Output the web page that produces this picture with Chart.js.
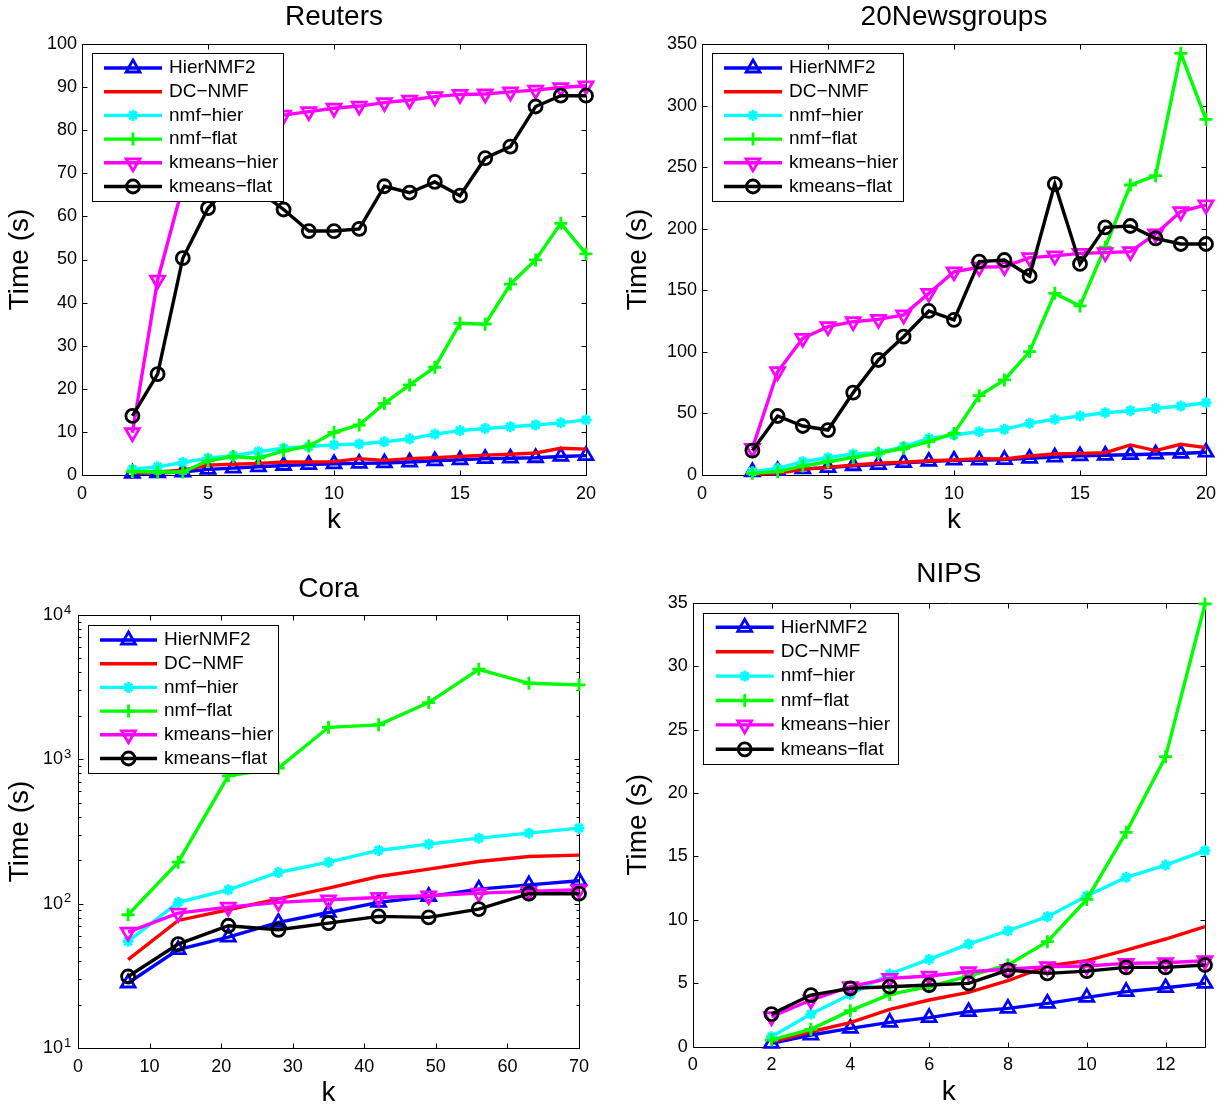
<!DOCTYPE html>
<html>
<head>
<meta charset="utf-8">
<script src="https://cdn.jsdelivr.net/npm/chart.js@4.4.1/dist/chart.umd.min.js"></script>
<style>
html, body { margin: 0; padding: 0; background: #ffffff; }
body { width: 1225px; height: 1110px; position: relative; overflow: hidden; }
canvas { position: absolute; }
</style>
</head>
<body>
<canvas id="reuters" width="612" height="555" style="left:0px;top:0px"></canvas>
<canvas id="news" width="613" height="555" style="left:612px;top:0px"></canvas>
<canvas id="cora" width="612" height="555" style="left:0px;top:555px"></canvas>
<canvas id="nips" width="613" height="555" style="left:612px;top:555px"></canvas>
<script>
// ---------------- DATA ----------------
const seriesLabels = ['HierNMF2', 'DC\u2212NMF', 'nmf\u2212hier', 'nmf\u2212flat', 'kmeans\u2212hier', 'kmeans\u2212flat'];

// Reuters
const reutersK = [2, 3, 4, 5, 6, 7, 8, 9, 10, 11, 12, 13, 14, 15, 16, 17, 18, 19, 20];
const reutersHierNMF2 = [0.4, 0.5, 0.7, 1.3, 1.6, 1.9, 2.2, 2.4, 2.6, 2.7, 2.8, 3.0, 3.3, 3.5, 3.8, 3.9, 4.0, 4.3, 4.5];
const reutersDCNMF = [0.5, 0.7, 1.1, 2.3, 2.5, 2.7, 3.0, 3.0, 3.1, 3.8, 3.4, 3.8, 4.0, 4.3, 4.6, 4.8, 5.1, 6.2, 6.0];
const reutersNmfHier = [1.3, 1.9, 2.9, 3.9, 4.5, 5.4, 6.2, 6.6, 7.0, 7.2, 7.7, 8.4, 9.5, 10.3, 10.8, 11.2, 11.6, 12.1, 12.8];
const reutersNmfFlat = [0.8, 0.7, 0.7, 3.3, 4.3, 3.9, 5.6, 6.7, 9.9, 11.6, 16.6, 20.9, 25.0, 35.2, 35.0, 44.3, 49.9, 58.4, 51.3];
const reutersKmeansHier = [9.8, 45.2, 67, 76, 80, 82, 83.5, 84.3, 85.1, 85.6, 86.4, 87.0, 87.8, 88.3, 88.4, 88.9, 89.3, 89.9, 90.3];
const reutersKmeansFlat = [13.7, 23.4, 50.3, 61.9, 68, 66, 61.6, 56.6, 56.6, 57.1, 67.0, 65.5, 68.0, 64.8, 73.5, 76.2, 85.5, 88.0, 88.0];
const reutersXTicks = [0, 5, 10, 15, 20];
const reutersYTicks = [0, 10, 20, 30, 40, 50, 60, 70, 80, 90, 100];

// 20Newsgroups
const newsK = [2, 3, 4, 5, 6, 7, 8, 9, 10, 11, 12, 13, 14, 15, 16, 17, 18, 19, 20];
const newsHierNMF2 = [2.5, 3.5, 5, 6, 7.5, 8.5, 10, 11, 12, 12, 12.5, 13.5, 14.5, 15.5, 16, 16.5, 17, 17.5, 18.5];
const newsDCNMF = [0.5, 1.4, 4.6, 6.2, 8.1, 9.5, 10.3, 11.6, 12.2, 13.3, 13, 15.4, 17.1, 17.6, 18.1, 24.4, 19.8, 24.9, 22.2];
const newsNmfHier = [2.7, 5.4, 10.8, 14.1, 17.1, 18.1, 23, 29.8, 32.5, 35.2, 37.1, 42, 45.2, 47.9, 50.6, 52.2, 54.1, 56, 58.7];
const newsNmfFlat = [1.4, 2.7, 7.3, 10.8, 14.3, 17.6, 21.7, 27.1, 33.8, 64.4, 77.2, 100.2, 147.5, 137.3, 185, 235.5, 243.1, 342.4, 288.8];
const newsKmeansHier = [21.7, 83.9, 111, 120.5, 124.5, 126.4, 130, 147.5, 165, 168.7, 169.2, 176.5, 177.9, 180, 180.6, 181.4, 195.7, 213.9, 219.3];
const newsKmeansFlat = [19.8, 47.9, 39.8, 36.5, 66.9, 93.4, 112.3, 133.2, 125.9, 173.3, 174.6, 161.6, 236.3, 171.4, 201.1, 202.2, 192.2, 187.6, 187.6];
const newsXTicks = [0, 5, 10, 15, 20];
const newsYTicks = [0, 50, 100, 150, 200, 250, 300, 350];

// Cora (log scale)
const coraK = [7, 14, 21, 28, 35, 42, 49, 56, 63, 70];
const coraHierNMF2 = [28.2, 48, 58.7, 74.1, 86.9, 102, 112, 126, 135, 144];
const coraDCNMF = [40.9, 76.5, 90.7, 108, 128.2, 154.3, 173.4, 196, 212, 216.8];
const coraNmfHier = [54.8, 102, 124.8, 164.5, 194, 233.7, 258.4, 284.5, 308, 333.6];
const coraNmfFlat = [83.8, 194, 769, 869, 1667, 1733, 2473, 4207, 3365, 3281];
const coraKmeansHier = [63.5, 86, 94.7, 102, 106.4, 110.4, 113.4, 118.4, 121.6, 125];
const coraKmeansFlat = [31.3, 52.5, 70.3, 65.9, 73.3, 81.6, 80.3, 91.7, 117.2, 117.2];
const coraXTicks = [0, 10, 20, 30, 40, 50, 60, 70];
const coraYTicks = [10, 100, 1000, 10000];

// NIPS
const nipsK = [2, 3, 4, 5, 6, 7, 8, 9, 10, 11, 12, 13];
const nipsHierNMF2 = [0.26, 0.92, 1.45, 1.92, 2.29, 2.76, 3.02, 3.42, 3.89, 4.34, 4.65, 4.99];
const nipsDCNMF = [0.39, 1.18, 1.89, 2.94, 3.68, 4.28, 5.2, 6.36, 6.78, 7.62, 8.49, 9.46];
const nipsNmfHier = [0.79, 2.57, 4.12, 5.73, 6.88, 8.09, 9.14, 10.25, 11.88, 13.35, 14.32, 15.45];
const nipsNmfFlat = [0.53, 1.37, 2.84, 4.12, 4.73, 5.57, 6.44, 8.28, 11.61, 16.9, 22.86, 34.9];
const nipsKmeansHier = [2.36, 3.68, 4.73, 5.39, 5.57, 5.91, 6.1, 6.31, 6.36, 6.57, 6.62, 6.78];
const nipsKmeansFlat = [2.57, 4.07, 4.6, 4.73, 4.86, 4.99, 6.04, 5.78, 5.96, 6.25, 6.25, 6.44];
const nipsXTicks = [0, 2, 4, 6, 8, 10, 12];
const nipsYTicks = [0, 5, 10, 15, 20, 25, 30, 35];

// ---------------- STYLE ----------------
const FONT = "'Liberation Sans', Arial, Helvetica, sans-serif";
Chart.defaults.font.family = FONT;
Chart.defaults.color = '#000000';
Chart.defaults.animation = false;

const styles = [
  { color: '#0000ff', marker: 'triangle', rotation: 0, radius: 8 },
  { color: '#ff0000', marker: false, rotation: 0, radius: 0 },
  { color: '#00ffff', marker: 'star', rotation: 0, radius: 5.5 },
  { color: '#00ff00', marker: 'cross', rotation: 0, radius: 6.5 },
  { color: '#ff00ff', marker: 'triangle', rotation: 180, radius: 8 },
  { color: '#000000', marker: 'circle', rotation: 0, radius: 6.5 }
];

function buildDatasets(ks, series) {
  return series.map((vals, i) => {
    const s = styles[i];
    return {
      label: seriesLabels[i],
      data: ks.map((k, j) => ({ x: k, y: vals[j] })),
      borderColor: s.color,
      backgroundColor: s.color,
      borderWidth: 3.4,
      pointStyle: s.marker || 'circle',
      pointRadius: s.radius,
      pointHoverRadius: s.radius,
      pointRotation: s.rotation,
      pointBorderWidth: 2.8,
      pointBackgroundColor: 'rgba(0,0,0,0)',
      pointBorderColor: s.color,
      tension: 0,
      clip: false,
      order: 10 - i
    };
  });
}

// Frame, inward ticks, legend box and log exponents
const matlabPlugin = {
  id: 'matlab',
  beforeDatasetsDraw(chart, args, opts) {
    const { ctx, chartArea: a, scales } = chart;
    const x = scales.x, y = scales.y;
    ctx.save();
    ctx.strokeStyle = '#000000';
    ctx.lineWidth = 1;
    ctx.beginPath();
    const L = Math.round(a.left) + 0.5, R = Math.round(a.right) + 0.5;
    const T = Math.round(a.top) + 0.5, B = Math.round(a.bottom) + 0.5;
    x.ticks.forEach(t => {
      const px = Math.round(x.getPixelForValue(t.value)) + 0.5;
      ctx.moveTo(px, B); ctx.lineTo(px, B - 5);
      ctx.moveTo(px, T); ctx.lineTo(px, T + 5);
    });
    y.ticks.forEach(t => {
      const py = Math.round(y.getPixelForValue(t.value)) + 0.5;
      ctx.moveTo(L, py); ctx.lineTo(L + 5, py);
      ctx.moveTo(R, py); ctx.lineTo(R - 5, py);
    });
    if (y.type === 'logarithmic') {
      for (let d = y.min; d < y.max; d *= 10) {
        for (let m = 2; m <= 9; m++) {
          const py = Math.round(y.getPixelForValue(d * m)) + 0.5;
          ctx.moveTo(L, py); ctx.lineTo(L + 3, py);
          ctx.moveTo(R, py); ctx.lineTo(R - 3, py);
        }
      }
    }
    ctx.rect(L, T, R - L, B - T);
    ctx.stroke();
    ctx.restore();
  },
  afterDatasetsDraw(chart, args, opts) {
    const { ctx, chartArea: a } = chart;
    const lg = opts.legend;
    const bx = a.left + lg.dx, by = a.top + lg.dy;
    ctx.save();
    ctx.fillStyle = '#ffffff';
    ctx.fillRect(bx, by, lg.w, lg.h);
    ctx.strokeStyle = '#000000';
    ctx.lineWidth = 1;
    ctx.strokeRect(Math.round(bx) + 0.5, Math.round(by) + 0.5, lg.w, lg.h);
    chart.data.datasets.forEach((ds, i) => {
      const cy = by + lg.first + i * lg.step;
      ctx.strokeStyle = ds.borderColor;
      ctx.lineWidth = ds.borderWidth;
      ctx.beginPath();
      ctx.moveTo(bx + lg.lineX0, cy);
      ctx.lineTo(bx + lg.lineX1, cy);
      ctx.stroke();
      if (ds.pointRadius > 0) {
        ctx.fillStyle = 'rgba(0,0,0,0)';
        ctx.strokeStyle = ds.borderColor;
        ctx.lineWidth = ds.pointBorderWidth;
        Chart.helpers.drawPoint(ctx, {
          pointStyle: ds.pointStyle, rotation: ds.pointRotation,
          radius: ds.pointRadius, borderWidth: ds.pointBorderWidth
        }, bx + (lg.lineX0 + lg.lineX1) / 2, cy);
      }
      ctx.fillStyle = '#000000';
      ctx.font = lg.fontSize + 'px ' + FONT;
      ctx.textAlign = 'left';
      ctx.textBaseline = 'middle';
      ctx.fillText(ds.label, bx + lg.textX, cy);
    });
    ctx.restore();
  },
  afterDraw(chart) {
    const y = chart.scales.y;
    if (y.type !== 'logarithmic') return;
    const { ctx, chartArea: a } = chart;
    ctx.save();
    ctx.fillStyle = '#000000';
    ctx.font = '13px ' + FONT;
    ctx.textAlign = 'left';
    ctx.textBaseline = 'middle';
    y.ticks.forEach(t => {
      const py = y.getPixelForValue(t.value);
      ctx.fillText(String(Math.round(Math.log10(t.value))), a.left - 14, py - 5);
    });
    ctx.restore();
  }
};

function makeChart(id, cfg) {
  const fixTicks = arr => scale => { scale.ticks = arr.map(v => ({ value: v })); };
  return new Chart(document.getElementById(id), {
    type: 'line',
    data: { datasets: buildDatasets(cfg.k, cfg.series) },
    plugins: [matlabPlugin],
    options: {
      responsive: false,
      devicePixelRatio: 1,
      animation: false,
      layout: { padding: { left: 0, top: 0, right: cfg.padRight, bottom: cfg.padBottom } },
      plugins: {
        legend: { display: false },
        tooltip: { enabled: false },
        title: {
          display: true, text: cfg.title, fullSize: false,
          font: { size: 28, weight: 'normal', family: FONT, lineHeight: 1.2 },
          color: '#000000',
          padding: { top: cfg.titlePadTop, bottom: cfg.titlePadBottom }
        },
        matlab: { legend: cfg.legend }
      },
      scales: {
        x: {
          type: 'linear', min: cfg.xMin, max: cfg.xMax,
          grid: { display: false, drawTicks: false }, border: { display: false },
          afterBuildTicks: fixTicks(cfg.xTicks),
          afterFit: s => { s.height = cfg.xAxisH; },
          ticks: { font: { size: 18, family: FONT }, color: '#000000', padding: 8, maxRotation: 0, autoSkip: false },
          title: { display: true, text: 'k', font: { size: 28, family: FONT }, color: '#000000', padding: { top: 0, bottom: cfg.kPad } }
        },
        y: {
          type: cfg.yType, min: cfg.yMin, max: cfg.yMax,
          grid: { display: false, drawTicks: false }, border: { display: false },
          afterBuildTicks: fixTicks(cfg.yTicks),
          afterFit: s => { s.width = cfg.yAxisW; },
          ticks: {
            font: { size: 18, family: FONT }, color: '#000000', padding: cfg.yTickPad, autoSkip: false,
            callback: cfg.yType === 'logarithmic' ? (() => '10') : (v => String(v))
          },
          title: { display: true, text: 'Time (s)', font: { size: 28, family: FONT }, color: '#000000', padding: { top: cfg.timePad, bottom: 0 } }
        }
      }
    }
  });
}

const legendStd = { dx: 10, dy: 9, w: 191, h: 148, first: 15, step: 23.7, lineX0: 12, lineX1: 70, textX: 77, fontSize: 19 };

makeChart('reuters', {
  title: 'Reuters', k: reutersK,
  series: [reutersHierNMF2, reutersDCNMF, reutersNmfHier, reutersNmfFlat, reutersKmeansHier, reutersKmeansFlat],
  xMin: 0, xMax: 20, xTicks: reutersXTicks, yType: 'linear', yMin: 0, yMax: 100, yTicks: reutersYTicks,
  padRight: 26, padBottom: 15, xAxisH: 65, yAxisW: 82, yTickPad: 5,
  titlePadTop: 0, titlePadBottom: 10.4, timePad: 3, kPad: 3,
  legend: legendStd
});
makeChart('news', {
  title: '20Newsgroups', k: newsK,
  series: [newsHierNMF2, newsDCNMF, newsNmfHier, newsNmfFlat, newsKmeansHier, newsKmeansFlat],
  xMin: 0, xMax: 20, xTicks: newsXTicks, yType: 'linear', yMin: 0, yMax: 350, yTicks: newsYTicks,
  padRight: 19, padBottom: 15, xAxisH: 65, yAxisW: 90, yTickPad: 5,
  titlePadTop: 0, titlePadBottom: 10.4, timePad: 9, kPad: 3,
  legend: legendStd
});
makeChart('cora', {
  title: 'Cora', k: coraK,
  series: [coraHierNMF2, coraDCNMF, coraNmfHier, coraNmfFlat, coraKmeansHier, coraKmeansFlat],
  xMin: 0, xMax: 70, xTicks: coraXTicks, yType: 'logarithmic', yMin: 10, yMax: 10000, yTicks: coraYTicks,
  padRight: 33, padBottom: 0, xAxisH: 62, yAxisW: 78, yTickPad: 15,
  titlePadTop: 17, titlePadBottom: 9.4, timePad: 3, kPad: 0,
  legend: { dx: 10, dy: 10, w: 190, h: 148, first: 15, step: 23.7, lineX0: 12, lineX1: 69, textX: 76, fontSize: 19 }
});
makeChart('nips', {
  title: 'NIPS', k: nipsK,
  series: [nipsHierNMF2, nipsDCNMF, nipsNmfHier, nipsNmfFlat, nipsKmeansHier, nipsKmeansFlat],
  xMin: 0, xMax: 13, xTicks: nipsXTicks, yType: 'linear', yMin: 0, yMax: 35, yTicks: nipsYTicks,
  padRight: 20, padBottom: 0, xAxisH: 63.3, yAxisW: 80.7, yTickPad: 5,
  titlePadTop: 2.5, titlePadBottom: 11.6, timePad: 9, kPad: 0.5,
  legend: { dx: 10, dy: 10, w: 195, h: 151, first: 14.6, step: 24.4, lineX0: 13, lineX1: 71, textX: 78, fontSize: 19 }
});
</script>
</body>
</html>
